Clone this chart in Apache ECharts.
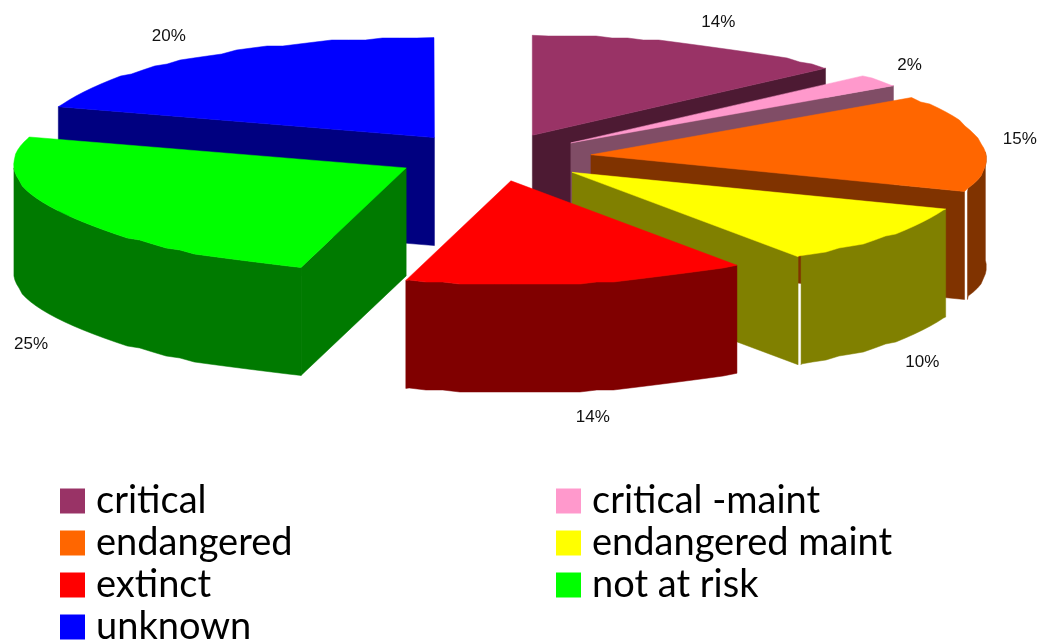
<!DOCTYPE html>
<html><head><meta charset="utf-8">
<style>html,body{margin:0;padding:0;background:#fff}#c{width:1039px;height:643px}</style>
<script src="https://cdn.jsdelivr.net/npm/echarts@6/dist/echarts.min.js"></script>
</head><body><div id="c"></div>
<script>
const categories = ['critical','critical -maint','endangered','endangered maint','extinct','not at risk','unknown'];
const values = [14,2,15,10,14,25,20];
const legendLeft = ['critical','endangered','extinct','unknown'];
const legendRight = ['critical -maint','endangered maint','not at risk'];
const topColors = ['#993366','#ff99cc','#ff6600','#ffff00','#ff0000','#00ff00','#0000ff'];
const wallColors = ['#4d1a33','#804d66','#803300','#808000','#800000','#007a00','#000080'];
const paintOrder = [0,1,2,6,3,5,4];
const labelOffsets = [[28,-21],[31,-15],[39,-3],[35,18],[15,26],[-32,23],[-33,-20]];
const seamGaps = [0,0,3,3,0,0,0];
const sliceShift = [0,0,0,0,0,-4,0];

const CX=491, CY=157, RX=395, RY=100, EX=97, EY=24, DEPTH=108, SHEAR=0.17, SHEAR_Y=135, STEP=2.5, SNAP=2;
const rad = d => d*Math.PI/180;
const total = values.reduce((a,b)=>a+b,0);
const shear = y => SHEAR*Math.max(0,y-SHEAR_Y);
// small perspective corrections of the projected rim
const warpAngle = t => t<112 ? t-2.5*Math.sin(rad(t*180/112)) : t;
const frontBulge = t => (t>150&&t<240) ? 4.5*Math.sin(rad((t-150)*2)) : 0;

function renderSlice(params, api){
  const i = params.seriesIndex;
  const v = api.value(0), before = api.value(1);
  const a = before/total*360, b = (before+v)/total*360, m = (a+b)/2;
  const ax = CX+EX*Math.sin(rad(m)), ay = CY-EY*Math.cos(rad(m));
  const rim = (t,snap) => {
    const w = warpAngle(t);
    let y = ay-RY*Math.cos(rad(w))+frontBulge(t);
    const x = ax+RX*Math.sin(rad(w))+shear(y)+sliceShift[i]*Math.max(0,Math.cos(rad(t-198)));
    if(snap) y = Math.round(y/SNAP)*SNAP;
    return [x,y];
  };
  const apex = [ax+shear(ay)+sliceShift[i],ay];
  const arc = (from,to) => {
    const pts=[rim(from)];
    for(let t=Math.ceil(from/STEP)*STEP;t<to;t+=STEP){ if(t>from) pts.push(rim(t,true)); }
    pts.push(rim(to));
    return pts;
  };
  const down = p => [p[0],p[1]+DEPTH];
  const poly = (points,fill) => ({type:'polygon',shape:{points},style:{fill,stroke:fill,lineWidth:0.5}});
  const children=[];
  const wall = wallColors[i];
  const faceAt = t => {const r=rim(t);return [apex,r,down(r),down(apex)];};
  if(Math.sin(rad(b))>0.001) children.push(poly(faceAt(b),wall));
  if(Math.sin(rad(a))<-0.001) children.push(poly(faceAt(a),wall));
  const lo=Math.max(a,90), hi=Math.min(b,270);
  if(lo<hi){
    let top=arc(lo,hi);
    const gap=seamGaps[i];
    if(gap){const minX=rim(b)[0]+gap; top=top.map(p=>[Math.max(p[0],minX),p[1]]);}
    children.push(poly(top.concat(top.slice().reverse().map(down)),wall));
  }
  children.push(poly([apex].concat(arc(a,b)),topColors[i]));
  const lp=rim(m), off=labelOffsets[i];
  children.push({type:'text',z2:50,style:{
    text:v+'%',x:lp[0]+off[0],y:lp[1]+(Math.cos(rad(m))<0?DEPTH:0)+off[1],
    fill:'#111',font:'17px "Liberation Sans"',align:'center',verticalAlign:'middle'}});
  return {type:'group',children};
}

let acc=0;
const series = categories.map((name,i)=>{
  const s={type:'custom',name,coordinateSystem:'none',silent:true,animation:false,
    z:2+paintOrder.indexOf(i),itemStyle:{color:topColors[i]},
    renderItem:renderSlice,data:[[values[i],acc]]};
  acc+=values[i];
  return s;
});
const legendBase={orient:'vertical',selectedMode:false,icon:'rect',itemWidth:25,itemHeight:25,itemGap:4,height:220,
  padding:0,textStyle:{fontFamily:'Lato',fontSize:38,color:'#000',padding:[8,0,0,6]}};
const chart=echarts.init(document.getElementById('c'),null,{renderer:'canvas'});
chart.setOption({animation:false,backgroundColor:'#fff',
  legend:[Object.assign({},legendBase,{left:60,top:482,data:legendLeft}),
          Object.assign({},legendBase,{left:556,top:482,data:legendRight})],
  series});
</script></body></html>
